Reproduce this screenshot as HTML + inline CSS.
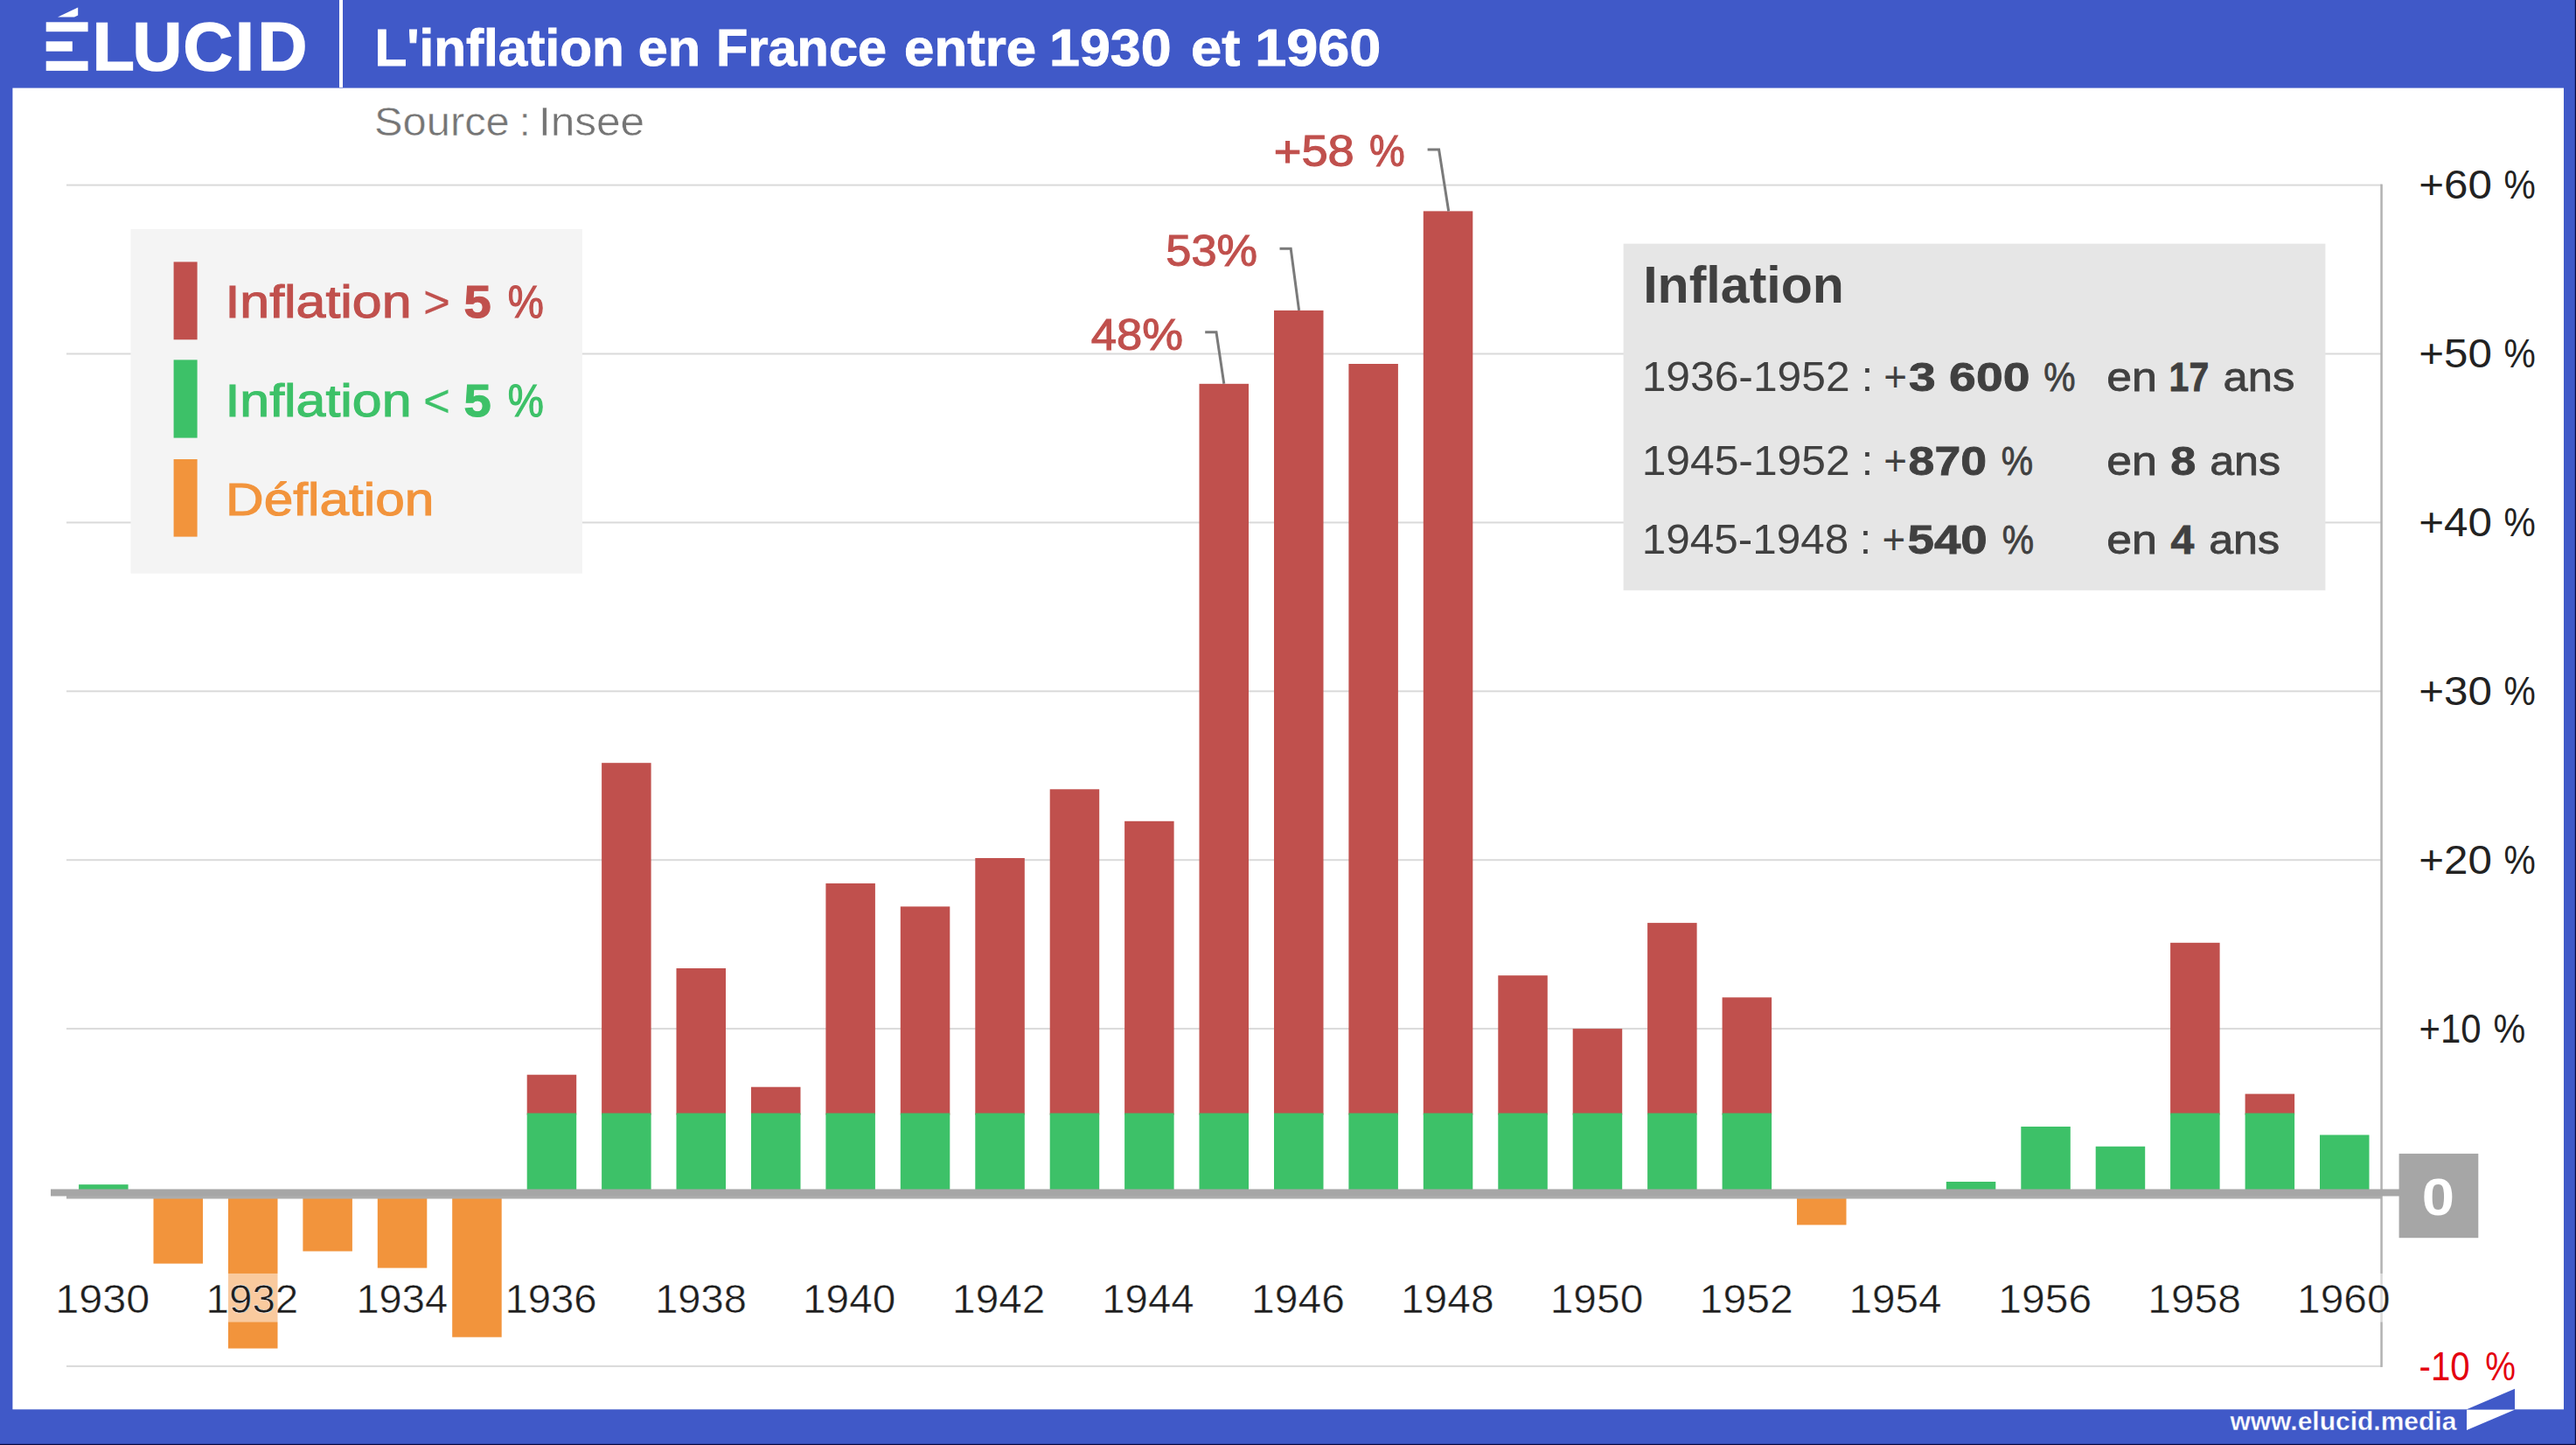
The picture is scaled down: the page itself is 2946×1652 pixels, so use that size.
<!DOCTYPE html>
<html lang="fr"><head><meta charset="utf-8"><title>L'inflation en France entre 1930 et 1960</title>
<style>html,body{margin:0;padding:0;background:#4059C8;}body{width:2946px;height:1652px;overflow:hidden;}svg{display:block;}text{white-space:pre;}</style>
</head><body>
<svg width="2946" height="1652" viewBox="0 0 2946 1652" font-family='"Liberation Sans", sans-serif'>
<rect width="2946" height="1652" fill="#4059C8"/>
<rect x="2944.8" y="0" width="1.2" height="1652" fill="#0a0a40"/><rect x="0" y="1650.8" width="2946" height="1.2" fill="#0a0a40"/>
<rect x="14.4" y="100.6" width="2917.6" height="1510.7" fill="#fff"/>
<rect x="388" y="0" width="4" height="100" fill="#fff"/>
<text y="80.2" font-size="78.6" font-weight="bold" fill="#fff" stroke="#fff" stroke-width="1.6" x="52 105.8 151.4 209.6 269.0 294.4">ÉLUCID</text>
<rect x="48" y="2" width="56" height="84" fill="#4059C8"/>
<g fill="#fff">
<rect x="52.7" y="25.3" width="47.9" height="10.9"/><rect x="52.7" y="47.3" width="30.1" height="11.4"/><rect x="52.7" y="69.8" width="47.9" height="11.1"/>
<polygon points="66,19.6 89.2,8.6 89.2,17.5 85,19.6"/>
</g>
<text y="75.2" font-size="58.9" font-weight="bold" fill="#fff" stroke="#fff" stroke-width="0.9"><tspan x="428.4" textLength="285.4" lengthAdjust="spacingAndGlyphs">L'inflation</tspan> <tspan x="729.8" textLength="71.4" lengthAdjust="spacingAndGlyphs">en</tspan> <tspan x="819.1" textLength="194.9" lengthAdjust="spacingAndGlyphs">France</tspan> <tspan x="1034.1" textLength="151.0" lengthAdjust="spacingAndGlyphs">entre</tspan> <tspan x="1200.1" textLength="139.4" lengthAdjust="spacingAndGlyphs">1930</tspan> <tspan x="1362.1" textLength="56.3" lengthAdjust="spacingAndGlyphs">et</tspan> <tspan x="1435.2" textLength="144.1" lengthAdjust="spacingAndGlyphs">1960</tspan></text>
<text y="155.0" font-size="46.5" font-weight="normal" fill="#757575" stroke="#fff" stroke-width="0.5"><tspan x="428.0" textLength="154.8" lengthAdjust="spacingAndGlyphs">Source</tspan> <tspan x="593.8">:</tspan> <tspan x="615.9" textLength="121.3" lengthAdjust="spacingAndGlyphs">Insee</tspan></text>
<rect x="76" y="210.6" width="2648" height="2" fill="#dadada"/>
<rect x="76" y="403.5" width="2648" height="2" fill="#dadada"/>
<rect x="76" y="596.4" width="2648" height="2" fill="#dadada"/>
<rect x="76" y="789.3" width="2648" height="2" fill="#dadada"/>
<rect x="76" y="982.2" width="2648" height="2" fill="#dadada"/>
<rect x="76" y="1175.1" width="2648" height="2" fill="#dadada"/>
<rect x="76" y="1560.9" width="2648" height="2" fill="#dadada"/>
<rect x="2722.3" y="210.6" width="2.5" height="1352.3" fill="#b2b2b2"/>
<rect x="90.1" y="1354.2" width="56.5" height="11.8" fill="#3DC168"/>
<rect x="175.5" y="1369" width="56.5" height="75.6" fill="#F2943C"/>
<rect x="261.0" y="1369" width="56.5" height="172.6" fill="#F2943C"/>
<rect x="346.4" y="1369" width="56.5" height="61.5" fill="#F2943C"/>
<rect x="431.8" y="1369" width="56.5" height="80.6" fill="#F2943C"/>
<rect x="517.2" y="1369" width="56.5" height="159.7" fill="#F2943C"/>
<rect x="602.7" y="1228.7" width="56.5" height="45.9" fill="#C0504D"/>
<rect x="602.7" y="1272.6" width="56.5" height="93.4" fill="#3DC168"/>
<rect x="688.1" y="872.2" width="56.5" height="402.4" fill="#C0504D"/>
<rect x="688.1" y="1272.6" width="56.5" height="93.4" fill="#3DC168"/>
<rect x="773.5" y="1107.0" width="56.5" height="167.6" fill="#C0504D"/>
<rect x="773.5" y="1272.6" width="56.5" height="93.4" fill="#3DC168"/>
<rect x="859.0" y="1242.7" width="56.5" height="31.9" fill="#C0504D"/>
<rect x="859.0" y="1272.6" width="56.5" height="93.4" fill="#3DC168"/>
<rect x="944.4" y="1009.9" width="56.5" height="264.7" fill="#C0504D"/>
<rect x="944.4" y="1272.6" width="56.5" height="93.4" fill="#3DC168"/>
<rect x="1029.8" y="1036.4" width="56.5" height="238.2" fill="#C0504D"/>
<rect x="1029.8" y="1272.6" width="56.5" height="93.4" fill="#3DC168"/>
<rect x="1115.3" y="981.0" width="56.5" height="293.6" fill="#C0504D"/>
<rect x="1115.3" y="1272.6" width="56.5" height="93.4" fill="#3DC168"/>
<rect x="1200.7" y="902.3" width="56.5" height="372.3" fill="#C0504D"/>
<rect x="1200.7" y="1272.6" width="56.5" height="93.4" fill="#3DC168"/>
<rect x="1286.1" y="938.8" width="56.5" height="335.8" fill="#C0504D"/>
<rect x="1286.1" y="1272.6" width="56.5" height="93.4" fill="#3DC168"/>
<rect x="1371.5" y="438.8" width="56.5" height="835.8" fill="#C0504D"/>
<rect x="1371.5" y="1272.6" width="56.5" height="93.4" fill="#3DC168"/>
<rect x="1457.0" y="354.9" width="56.5" height="919.7" fill="#C0504D"/>
<rect x="1457.0" y="1272.6" width="56.5" height="93.4" fill="#3DC168"/>
<rect x="1542.4" y="416.0" width="56.5" height="858.6" fill="#C0504D"/>
<rect x="1542.4" y="1272.6" width="56.5" height="93.4" fill="#3DC168"/>
<rect x="1627.8" y="241.4" width="56.5" height="1033.2" fill="#C0504D"/>
<rect x="1627.8" y="1272.6" width="56.5" height="93.4" fill="#3DC168"/>
<rect x="1713.3" y="1115.2" width="56.5" height="159.4" fill="#C0504D"/>
<rect x="1713.3" y="1272.6" width="56.5" height="93.4" fill="#3DC168"/>
<rect x="1798.7" y="1176.1" width="56.5" height="98.5" fill="#C0504D"/>
<rect x="1798.7" y="1272.6" width="56.5" height="93.4" fill="#3DC168"/>
<rect x="1884.1" y="1055.1" width="56.5" height="219.5" fill="#C0504D"/>
<rect x="1884.1" y="1272.6" width="56.5" height="93.4" fill="#3DC168"/>
<rect x="1969.6" y="1140.3" width="56.5" height="134.3" fill="#C0504D"/>
<rect x="1969.6" y="1272.6" width="56.5" height="93.4" fill="#3DC168"/>
<rect x="2055.0" y="1369" width="56.5" height="31.4" fill="#F2943C"/>
<rect x="2225.8" y="1351.0" width="56.5" height="15.0" fill="#3DC168"/>
<rect x="2311.3" y="1288.0" width="56.5" height="78.0" fill="#3DC168"/>
<rect x="2396.7" y="1310.7" width="56.5" height="55.3" fill="#3DC168"/>
<rect x="2482.1" y="1077.8" width="56.5" height="196.8" fill="#C0504D"/>
<rect x="2482.1" y="1272.6" width="56.5" height="93.4" fill="#3DC168"/>
<rect x="2567.6" y="1250.6" width="56.5" height="24.0" fill="#C0504D"/>
<rect x="2567.6" y="1272.6" width="56.5" height="93.4" fill="#3DC168"/>
<rect x="2653.0" y="1297.5" width="56.5" height="68.5" fill="#3DC168"/>
<rect x="76" y="1366.5" width="2648" height="4" fill="#acacac"/>
<rect x="58" y="1359.5" width="2686" height="8" fill="#a6a6a6"/>
<rect x="2743.6" y="1318.9" width="90.7" height="96.3" fill="#a6a6a6"/>
<text y="1389.3" font-size="60.0" font-weight="bold" fill="#fff"><tspan x="2769.7" textLength="37.3" lengthAdjust="spacingAndGlyphs">0</tspan></text>
<rect x="66.3" y="1455.9" width="104" height="55.6" fill="#fff" fill-opacity="0.5"/>
<rect x="237.2" y="1455.9" width="104" height="55.6" fill="#fff" fill-opacity="0.5"/>
<rect x="408.1" y="1455.9" width="104" height="55.6" fill="#fff" fill-opacity="0.5"/>
<rect x="578.9" y="1455.9" width="104" height="55.6" fill="#fff" fill-opacity="0.5"/>
<rect x="749.8" y="1455.9" width="104" height="55.6" fill="#fff" fill-opacity="0.5"/>
<rect x="920.7" y="1455.9" width="104" height="55.6" fill="#fff" fill-opacity="0.5"/>
<rect x="1091.5" y="1455.9" width="104" height="55.6" fill="#fff" fill-opacity="0.5"/>
<rect x="1262.4" y="1455.9" width="104" height="55.6" fill="#fff" fill-opacity="0.5"/>
<rect x="1433.2" y="1455.9" width="104" height="55.6" fill="#fff" fill-opacity="0.5"/>
<rect x="1604.1" y="1455.9" width="104" height="55.6" fill="#fff" fill-opacity="0.5"/>
<rect x="1775.0" y="1455.9" width="104" height="55.6" fill="#fff" fill-opacity="0.5"/>
<rect x="1945.8" y="1455.9" width="104" height="55.6" fill="#fff" fill-opacity="0.5"/>
<rect x="2116.7" y="1455.9" width="104" height="55.6" fill="#fff" fill-opacity="0.5"/>
<rect x="2287.5" y="1455.9" width="104" height="55.6" fill="#fff" fill-opacity="0.5"/>
<rect x="2458.4" y="1455.9" width="104" height="55.6" fill="#fff" fill-opacity="0.5"/>
<rect x="2629.2" y="1455.9" width="104" height="55.6" fill="#fff" fill-opacity="0.5"/>
<text y="1500.9" font-size="46.5" font-weight="normal" fill="#1e1e1e" stroke="#fff" stroke-width="0.5"><tspan x="63.2" textLength="108.1" lengthAdjust="spacingAndGlyphs">1930</tspan></text>
<text y="1500.9" font-size="46.5" font-weight="normal" fill="#1e1e1e" stroke="#fff" stroke-width="0.5"><tspan x="235.6" textLength="105.7" lengthAdjust="spacingAndGlyphs">1932</tspan></text>
<text y="1500.9" font-size="46.5" font-weight="normal" fill="#1e1e1e" stroke="#fff" stroke-width="0.5"><tspan x="407.4" textLength="104.7" lengthAdjust="spacingAndGlyphs">1934</tspan></text>
<text y="1500.9" font-size="46.5" font-weight="normal" fill="#1e1e1e" stroke="#fff" stroke-width="0.5"><tspan x="577.4" textLength="105.3" lengthAdjust="spacingAndGlyphs">1936</tspan></text>
<text y="1500.9" font-size="46.5" font-weight="normal" fill="#1e1e1e" stroke="#fff" stroke-width="0.5"><tspan x="749.2" textLength="104.7" lengthAdjust="spacingAndGlyphs">1938</tspan></text>
<text y="1500.9" font-size="46.5" font-weight="normal" fill="#1e1e1e" stroke="#fff" stroke-width="0.5"><tspan x="918.0" textLength="106.3" lengthAdjust="spacingAndGlyphs">1940</tspan></text>
<text y="1500.9" font-size="46.5" font-weight="normal" fill="#1e1e1e" stroke="#fff" stroke-width="0.5"><tspan x="1089.1" textLength="106.3" lengthAdjust="spacingAndGlyphs">1942</tspan></text>
<text y="1500.9" font-size="46.5" font-weight="normal" fill="#1e1e1e" stroke="#fff" stroke-width="0.5"><tspan x="1260.3" textLength="105.3" lengthAdjust="spacingAndGlyphs">1944</tspan></text>
<text y="1500.9" font-size="46.5" font-weight="normal" fill="#1e1e1e" stroke="#fff" stroke-width="0.5"><tspan x="1431.0" textLength="106.9" lengthAdjust="spacingAndGlyphs">1946</tspan></text>
<text y="1500.9" font-size="46.5" font-weight="normal" fill="#1e1e1e" stroke="#fff" stroke-width="0.5"><tspan x="1601.9" textLength="106.8" lengthAdjust="spacingAndGlyphs">1948</tspan></text>
<text y="1500.9" font-size="46.5" font-weight="normal" fill="#1e1e1e" stroke="#fff" stroke-width="0.5"><tspan x="1772.7" textLength="106.6" lengthAdjust="spacingAndGlyphs">1950</tspan></text>
<text y="1500.9" font-size="46.5" font-weight="normal" fill="#1e1e1e" stroke="#fff" stroke-width="0.5"><tspan x="1943.6" textLength="107.2" lengthAdjust="spacingAndGlyphs">1952</tspan></text>
<text y="1500.9" font-size="46.5" font-weight="normal" fill="#1e1e1e" stroke="#fff" stroke-width="0.5"><tspan x="2114.5" textLength="106.1" lengthAdjust="spacingAndGlyphs">1954</tspan></text>
<text y="1500.9" font-size="46.5" font-weight="normal" fill="#1e1e1e" stroke="#fff" stroke-width="0.5"><tspan x="2285.3" textLength="106.9" lengthAdjust="spacingAndGlyphs">1956</tspan></text>
<text y="1500.9" font-size="46.5" font-weight="normal" fill="#1e1e1e" stroke="#fff" stroke-width="0.5"><tspan x="2456.2" textLength="106.8" lengthAdjust="spacingAndGlyphs">1958</tspan></text>
<text y="1500.9" font-size="46.5" font-weight="normal" fill="#1e1e1e" stroke="#fff" stroke-width="0.5"><tspan x="2627.0" textLength="106.6" lengthAdjust="spacingAndGlyphs">1960</tspan></text>
<text y="227.2" font-size="46.5" font-weight="normal" fill="#222"><tspan x="2766.2" textLength="83.7" lengthAdjust="spacingAndGlyphs">+60</tspan> <tspan x="2863.5" textLength="36.3" lengthAdjust="spacingAndGlyphs">%</tspan></text>
<text y="420.1" font-size="46.5" font-weight="normal" fill="#222"><tspan x="2766.2" textLength="83.7" lengthAdjust="spacingAndGlyphs">+50</tspan> <tspan x="2863.5" textLength="36.3" lengthAdjust="spacingAndGlyphs">%</tspan></text>
<text y="613.0" font-size="46.5" font-weight="normal" fill="#222"><tspan x="2766.2" textLength="83.7" lengthAdjust="spacingAndGlyphs">+40</tspan> <tspan x="2863.5" textLength="36.3" lengthAdjust="spacingAndGlyphs">%</tspan></text>
<text y="805.9" font-size="46.5" font-weight="normal" fill="#222"><tspan x="2766.2" textLength="83.7" lengthAdjust="spacingAndGlyphs">+30</tspan> <tspan x="2863.5" textLength="36.3" lengthAdjust="spacingAndGlyphs">%</tspan></text>
<text y="998.8" font-size="46.5" font-weight="normal" fill="#222"><tspan x="2766.2" textLength="83.7" lengthAdjust="spacingAndGlyphs">+20</tspan> <tspan x="2863.5" textLength="36.3" lengthAdjust="spacingAndGlyphs">%</tspan></text>
<text y="1191.7" font-size="46.5" font-weight="normal" fill="#222"><tspan x="2766.6" textLength="71.0" lengthAdjust="spacingAndGlyphs">+10</tspan> <tspan x="2851.5" textLength="36.7" lengthAdjust="spacingAndGlyphs">%</tspan></text>
<text y="1577.6" font-size="46.5" font-weight="normal" fill="#e4000f"><tspan x="2766.5" textLength="58.1" lengthAdjust="spacingAndGlyphs">-10</tspan> <tspan x="2842.3" textLength="34.7" lengthAdjust="spacingAndGlyphs">%</tspan></text>
<rect x="149.5" y="261.9" width="516.4" height="393.7" fill="#f4f4f4"/>
<rect x="198.6" y="299.4" width="27" height="88.9" fill="#C0504D"/>
<rect x="198.6" y="411.4" width="27" height="89.2" fill="#3DC168"/>
<rect x="198.6" y="525" width="27" height="88.6" fill="#F2943C"/>
<text y="362.8" font-size="52.2" font-weight="normal" fill="#C0504D" stroke="#C0504D" stroke-width="1.1"><tspan x="257.4" textLength="213.1" lengthAdjust="spacingAndGlyphs">Inflation</tspan> <tspan x="484.3" textLength="30.5" lengthAdjust="spacingAndGlyphs" stroke-width="0.3">&gt;</tspan> <tspan x="530.4" textLength="31.2" lengthAdjust="spacingAndGlyphs" font-weight="bold">5</tspan> <tspan x="580.8" textLength="41.1" lengthAdjust="spacingAndGlyphs">%</tspan></text>
<text y="476.1" font-size="52.2" font-weight="normal" fill="#3DC168" stroke="#3DC168" stroke-width="1.1"><tspan x="257.4" textLength="213.1" lengthAdjust="spacingAndGlyphs">Inflation</tspan> <tspan x="484.3" textLength="30.5" lengthAdjust="spacingAndGlyphs" stroke-width="0.3">&lt;</tspan> <tspan x="530.4" textLength="31.2" lengthAdjust="spacingAndGlyphs" font-weight="bold">5</tspan> <tspan x="580.8" textLength="41.1" lengthAdjust="spacingAndGlyphs">%</tspan></text>
<text y="589.0" font-size="52.2" font-weight="normal" fill="#F2943C" stroke="#F2943C" stroke-width="1.1"><tspan x="258.1" textLength="238.3" lengthAdjust="spacingAndGlyphs">Déflation</tspan></text>
<text y="190.2" font-size="50.7" font-weight="normal" fill="#C0504D" stroke="#C0504D" stroke-width="1.1"><tspan x="1456.7" textLength="92.1" lengthAdjust="spacingAndGlyphs">+58</tspan> <tspan x="1565.9" textLength="40.7" lengthAdjust="spacingAndGlyphs">%</tspan></text>
<text y="304.2" font-size="50.7" font-weight="normal" fill="#C0504D" stroke="#C0504D" stroke-width="1.1"><tspan x="1333.3" textLength="104.7" lengthAdjust="spacingAndGlyphs">53%</tspan></text>
<text y="399.8" font-size="50.7" font-weight="normal" fill="#C0504D" stroke="#C0504D" stroke-width="1.1"><tspan x="1247.7" textLength="105.3" lengthAdjust="spacingAndGlyphs">48%</tspan></text>
<g fill="none" stroke="#7a7a7a" stroke-width="3" stroke-linejoin="miter">
<polyline points="1632.6,171.1 1645.6,171.1 1656.7,241.4"/>
<polyline points="1463.5,284.3 1476.2,284.3 1485.6,354.9"/>
<polyline points="1378.2,379.8 1391,379.8 1399.8,438.8"/>
</g>
<rect x="1856.6" y="278.6" width="802.8" height="396.3" fill="#e6e6e6"/>
<text y="345.9" font-size="59.6" font-weight="bold" fill="#404040"><tspan x="1879.2" textLength="229.7" lengthAdjust="spacingAndGlyphs">Inflation</tspan></text>
<text y="447.4" font-size="48.3" font-weight="normal" fill="#404040"><tspan x="1877.7" textLength="237.9" lengthAdjust="spacingAndGlyphs">1936-1952</tspan> <tspan x="2128.8">:</tspan> <tspan x="2154.3" textLength="26.7" lengthAdjust="spacingAndGlyphs">+</tspan></text>
<text y="447.0" font-size="47.1" font-weight="normal" fill="#404040" stroke="#404040" stroke-width="0.8"><tspan x="2183.0" textLength="138.4" lengthAdjust="spacingAndGlyphs" font-weight="bold">3 600</tspan> <tspan x="2337.2" textLength="36.3" lengthAdjust="spacingAndGlyphs">%</tspan></text>
<text y="447.0" font-size="47.1" font-weight="normal" fill="#404040" stroke="#404040" stroke-width="0.8"><tspan x="2409.2" textLength="57.7" lengthAdjust="spacingAndGlyphs">en</tspan> <tspan x="2480.6" textLength="45.6" lengthAdjust="spacingAndGlyphs" font-weight="bold">17</tspan> <tspan x="2542.5" textLength="81.8" lengthAdjust="spacingAndGlyphs">ans</tspan></text>
<text y="543.0" font-size="48.3" font-weight="normal" fill="#404040"><tspan x="1877.7" textLength="237.9" lengthAdjust="spacingAndGlyphs">1945-1952</tspan> <tspan x="2128.8">:</tspan> <tspan x="2154.3" textLength="26.7" lengthAdjust="spacingAndGlyphs">+</tspan></text>
<text y="542.6" font-size="47.1" font-weight="normal" fill="#404040" stroke="#404040" stroke-width="0.8"><tspan x="2182.6" textLength="89.5" lengthAdjust="spacingAndGlyphs" font-weight="bold">870</tspan> <tspan x="2288.7" textLength="36.3" lengthAdjust="spacingAndGlyphs">%</tspan></text>
<text y="542.6" font-size="47.1" font-weight="normal" fill="#404040" stroke="#404040" stroke-width="0.8"><tspan x="2409.2" textLength="57.7" lengthAdjust="spacingAndGlyphs">en</tspan> <tspan x="2482.2" textLength="29.1" lengthAdjust="spacingAndGlyphs" font-weight="bold">8</tspan> <tspan x="2527.2" textLength="81.0" lengthAdjust="spacingAndGlyphs">ans</tspan></text>
<text y="632.9" font-size="48.3" font-weight="normal" fill="#404040"><tspan x="1877.7" textLength="236.5" lengthAdjust="spacingAndGlyphs">1945-1948</tspan> <tspan x="2126.8">:</tspan> <tspan x="2152.6" textLength="26.7" lengthAdjust="spacingAndGlyphs">+</tspan></text>
<text y="632.5" font-size="47.1" font-weight="normal" fill="#404040" stroke="#404040" stroke-width="0.8"><tspan x="2181.5" textLength="91.3" lengthAdjust="spacingAndGlyphs" font-weight="bold">540</tspan> <tspan x="2289.7" textLength="36.3" lengthAdjust="spacingAndGlyphs">%</tspan></text>
<text y="632.5" font-size="47.1" font-weight="normal" fill="#404040" stroke="#404040" stroke-width="0.8"><tspan x="2409.2" textLength="57.7" lengthAdjust="spacingAndGlyphs">en</tspan> <tspan x="2482.5" textLength="26.8" lengthAdjust="spacingAndGlyphs" font-weight="bold">4</tspan> <tspan x="2526.2" textLength="81.0" lengthAdjust="spacingAndGlyphs">ans</tspan></text>
<text y="1634.7" font-size="29.4" font-weight="bold" fill="#fff" stroke="#4059C8" stroke-width="0.35"><tspan x="2550.4" textLength="259.0" lengthAdjust="spacingAndGlyphs">www.elucid.media</tspan></text>
<polygon points="2821,1611.3 2876,1587.8 2876,1611.3" fill="#4059C8"/>
<polygon points="2821,1611.8 2875.7,1611.8 2821,1635" fill="#fff"/>
</svg>
</body></html>
